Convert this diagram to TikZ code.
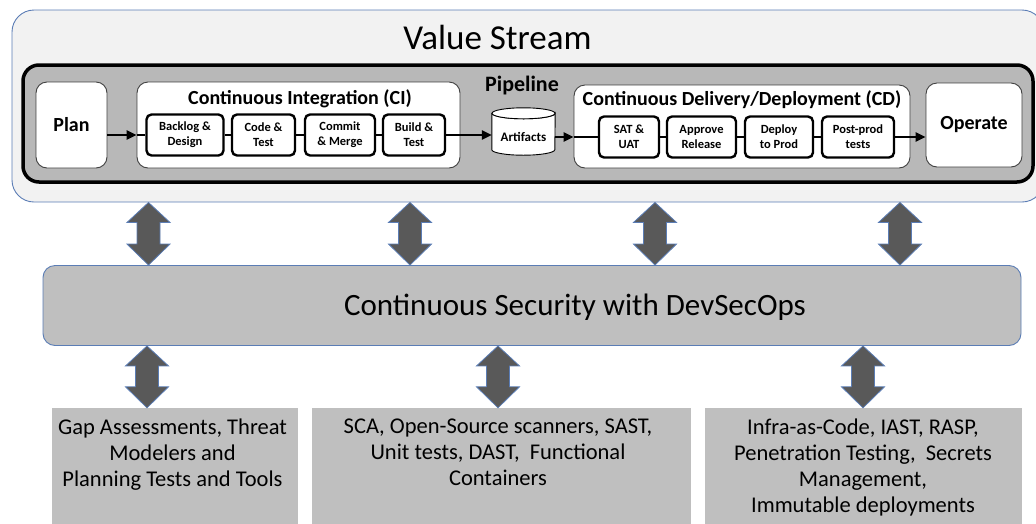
\documentclass[tikz,border=0pt]{standalone}
\usepackage{fontspec}
\setmainfont{Carlito}
\usetikzlibrary{arrows.meta,calc}

\definecolor{vsfill}{HTML}{F2F2F2}
\definecolor{vsline}{HTML}{5B7DB5}
\definecolor{pipefill}{HTML}{B8B8B8}
\definecolor{secfill}{HTML}{BFBFBF}
\definecolor{arrowgray}{HTML}{595959}
\definecolor{stageline}{HTML}{404040}

\tikzset{
  vsbox/.style={draw=vsline, line width=0.9pt, fill=vsfill, rounded corners=22pt, inner sep=0pt},
  pipebox/.style={draw=black, line width=3.5pt, fill=pipefill, rounded corners=16pt, inner sep=0pt},
  stage/.style={draw=stageline, line width=0.9pt, fill=white, rounded corners=11pt, inner sep=0pt},
  stagelabel/.style={font=\fontsize{20}{24}\selectfont\bfseries},
  stepbox/.style={draw=black, line width=2.4pt, fill=white, rounded corners=5pt, inner sep=0pt,
    minimum height=41pt, align=center, font=\fontsize{12.5}{15}\selectfont\bfseries},
  secbox/.style={draw=vsline, line width=0.9pt, fill=secfill, rounded corners=12pt, inner sep=0pt},
  toolbox/.style={fill=secfill, inner sep=0pt},
  tooltext/.style={align=center, inner sep=0pt, anchor=north, font=\fontsize{22.5}{26}\selectfont},
  flow/.style={draw=black, line width=2.4pt},
  flowarrow/.style={flow, -{Triangle[width=9pt,length=10pt]}},
  twoway/.style={draw=vsline, line width=0.8pt, fill=arrowgray},
}

\begin{document}
\begin{tikzpicture}[x=1pt,y=-1pt]
\useasboundingbox (0,0) rectangle (1036,523);

% value stream frame (its right side runs past the page edge)
\node[vsbox, minimum width=1032pt, minimum height=192pt] (vs) at (528,106) {};
\node[font=\fontsize{35}{42}\selectfont] (vstitle) at (497.5,37) {Value Stream};

% pipeline band
\node[pipebox, minimum width=1010pt, minimum height=117pt] (pipe) at (528,123.5) {};
\node[font=\fontsize{22}{26}\selectfont\bfseries] (pipetitle) at (522,86) {Pipeline};

% plan and operate
\node[stage, stagelabel, minimum width=71pt, minimum height=86pt] (plan) at (71.5,125) {Plan};
\node[stage, stagelabel, minimum width=96pt, minimum height=84pt] (operate) at (974,125) {Operate};

% continuous integration
\node[stage, minimum width=323pt, minimum height=86pt] (ci) at (298.5,125) {};
\node[font=\fontsize{20}{24}\selectfont\bfseries] (cititle) at (300,99) {Continuous Integration (CI)};
\node[stepbox, minimum width=77pt] (bd) at (185,135) {Backlog \&\\Design};
\node[stepbox, minimum width=63pt] (ct) at (263.5,135) {Code \&\\Test};
\node[stepbox, minimum width=70pt] (cm) at (340,135) {Commit\\\& Merge};
\node[stepbox, minimum width=62pt] (bt) at (414,135) {Build \&\\Test};

% artifacts store
\node[minimum width=63pt, minimum height=47pt, inner sep=0pt] (art) at (523.5,131.5) {};
\draw[draw=black, line width=0.9pt, fill=white]
  ($(art.north west)+(0,5.5)$) -- ($(art.south west)+(0,-5.5)$)
  arc[start angle=180, end angle=360, x radius=31.5pt, y radius=5.5pt]
  -- ($(art.north east)+(0,5.5)$)
  arc[start angle=0, end angle=-180, x radius=31.5pt, y radius=5.5pt] -- cycle;
\draw[draw=black, line width=0.9pt, fill=white]
  ($(art.north)+(0,5.5)$) ellipse[x radius=31.5pt, y radius=5.5pt];
\node[font=\fontsize{13}{16}\selectfont\bfseries] (artlabel) at ($(art)+(0,5)$) {Artifacts};

% continuous delivery / deployment
\node[stage, minimum width=336pt, minimum height=83pt] (cd) at (742,126.5) {};
\node[font=\fontsize{20}{24}\selectfont\bfseries] (cdtitle) at (742,100) {Continuous Delivery/Deployment (CD)};
\node[stepbox, minimum width=60pt] (sat) at (629,137) {SAT \&\\UAT};
\node[stepbox, minimum width=69pt] (apr) at (701.5,137) {Approve\\Release};
\node[stepbox, minimum width=68pt] (dep) at (779,137) {Deploy\\to Prod};
\node[stepbox, minimum width=72pt] (post) at (858,137) {Post-prod\\tests};

% pipeline flow
\draw[flowarrow] (plan.east |- bd) -- (ci.west |- bd);
\draw[flow] (ci.west |- bd) -- (bd);
\draw[flow] (bd) -- (ct);
\draw[flow] (ct) -- (cm);
\draw[flow] (cm) -- (bt);
\draw[flowarrow] (bt) -- (art.west |- bt);
\draw[flowarrow] (art.east |- sat) -- (cd.west |- sat);
\draw[flow] (cd.west |- sat) -- (sat);
\draw[flow] (sat) -- (apr);
\draw[flow] (apr) -- (dep);
\draw[flow] (dep) -- (post);
\draw[flowarrow] (post) -- (operate.west |- post);

% security layer
\node[secbox, minimum width=978pt, minimum height=80pt] (sec) at (532,305.5) {};
\node[font=\fontsize{31}{37}\selectfont] (sectitle) at (575,307) {Continuous Security with DevSecOps};

% tool groups
\node[toolbox, minimum width=246pt, minimum height=116pt] (tools1) at (175,466) {};
\node[toolbox, minimum width=379pt, minimum height=116pt] (tools2) at (501.5,466) {};
\node[toolbox, minimum width=317pt, minimum height=116pt] (tools3) at (863.5,466) {};
\node[tooltext] (t1) at (172.5,419) {Gap Assessments, Threat\\Modelers and\\Planning Tests and Tools};
\node[tooltext] (t2) at (498,419) {SCA, Open-Source scanners, SAST,\\Unit tests, DAST,\ \ Functional\\Containers};
\node[tooltext] (t3) at (863,419) {Infra-as-Code, IAST, RASP,\\Penetration Testing,\ \ Secrets\\Management,\\Immutable deployments};

% two-way links between the layers
\coordinate (u1) at (148.5,0);
\coordinate (u2) at (410,0);
\coordinate (u3) at (655,0);
\coordinate (u4) at (900,0);
\coordinate (d1) at (147,0);
\coordinate (d2) at (498,0);
\coordinate (d3) at (863,0);
\foreach \a/\b/\c in {vs/sec/u1, vs/sec/u2, vs/sec/u3, vs/sec/u4,
                      sec/tools1/d1, sec/tools1/d2, sec/tools1/d3}{
  \draw[twoway] let \p1=(\a.south -| \c), \p2=(\b.north -| \c) in
    (\x1,\y1) -- (\x1+21.5pt,\y1-20pt) -- (\x1+11.5pt,\y1-20pt)
    -- (\x1+11.5pt,\y2+21pt) -- (\x1+21.5pt,\y2+21pt) -- (\x1,\y2)
    -- (\x1-21.5pt,\y2+21pt) -- (\x1-11.5pt,\y2+21pt)
    -- (\x1-11.5pt,\y1-20pt) -- (\x1-21.5pt,\y1-20pt) -- cycle;
}
\end{tikzpicture}
\end{document}
